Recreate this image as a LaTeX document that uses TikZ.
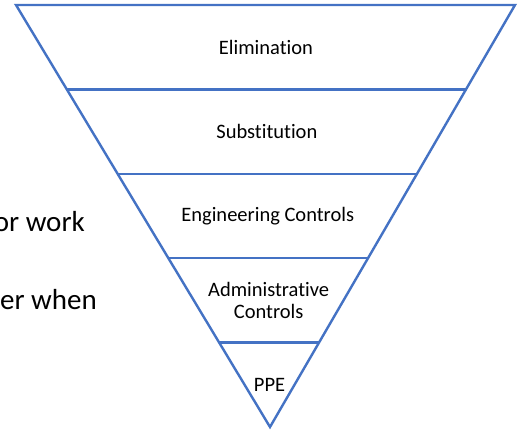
\documentclass[tikz,border=0pt]{standalone}
\usepackage{fontspec}
\setmainfont{Carlito}[Ligatures=NoCommon]
\usetikzlibrary{calc}
\definecolor{pyrblue}{HTML}{4472C4}
\tikzset{
  edge/.style={draw=pyrblue, line width=2.4pt, line join=miter},
  band/.style={font=\fontsize{20.5}{22.5}\selectfont, align=center, inner sep=0pt, text=black},
  behind/.style={font=\fontsize{29}{34}\selectfont, anchor=base east, inner sep=0pt, text=black},
}
\begin{document}
\begin{tikzpicture}[x=1pt,y=-1pt]
\fill[white] (0,0) rectangle (531,433);
\useasboundingbox (0,0) rectangle (531,433);
\coordinate (tl) at (16,5);
\coordinate (tr) at (515,5);
\coordinate (ap) at (270,427);
\foreach \i in {1,...,4}{
  \coordinate (l\i) at ($(tl)!\i/5!(ap)$);
  \coordinate (r\i) at ($(tr)!\i/5!(ap)$);
}
\foreach \i in {1,...,5}{
  \coordinate (ml\i) at ($(tl)!{(\i-0.5)/5}!(ap)$);
  \coordinate (mr\i) at ($(tr)!{(\i-0.5)/5}!(ap)$);
  \coordinate (mc\i) at ($(ml\i)!0.5!(mr\i)$);
}
\draw[edge] (tl) -- (tr) -- (ap) -- cycle;
\foreach \i in {1,...,4}{
  \draw[edge] (l\i) -- (r\i);
}
\node[band] (n1) at (mc1) {Elimination};
\node[band] (n2) at (mc2) {Substitution};
\node[band] (n3) at (mc3) {Engineering Controls};
\node[band] (n4) at (mc4) {Administrative\\Controls};
\node[band] (n5) at (mc5) {PPE};
\node[behind] (bw1) at (85,232) {or work};
\node[behind] (bw2) at (97,310) {er when};
\end{tikzpicture}
\end{document}
